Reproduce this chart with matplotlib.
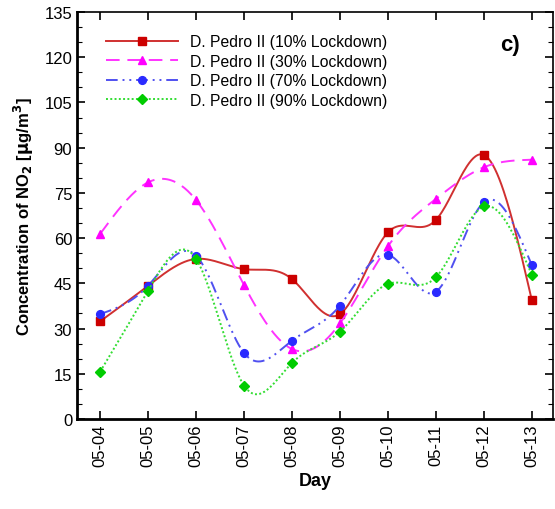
import numpy as np
import matplotlib.pyplot as plt

# NO2 at D. Pedro II under different lockdown scenarios
days = ['05-04', '05-05', '05-06', '05-07', '05-08', '05-09', '05-10', '05-11', '05-12', '05-13']
lock10 = [32.4, 44.2, 53.1, 49.7, 46.4, 34.8, 61.9, 66.0, 87.6, 39.5]
lock30 = [61.4, 78.5, 72.6, 44.4, 23.2, 31.7, 57.3, 73.0, 83.5, 86.0]
lock70 = [34.8, 44.2, 54.2, 21.9, 26.0, 37.6, 54.5, 42.2, 71.9, 51.1]
lock90 = [15.7, 42.6, 53.1, 11.1, 18.6, 29.0, 44.8, 47.0, 70.5, 47.9]


def natural_spline(x, y, n=400):
    # plain natural cubic spline, no scipy needed
    x = np.asarray(x, float)
    y = np.asarray(y, float)
    m = len(x)
    h = np.diff(x)
    A = np.zeros((m, m))
    b = np.zeros(m)
    A[0, 0] = 1
    A[-1, -1] = 1
    for i in range(1, m - 1):
        A[i, i - 1] = h[i - 1]
        A[i, i] = 2 * (h[i - 1] + h[i])
        A[i, i + 1] = h[i]
        b[i] = 6 * ((y[i + 1] - y[i]) / h[i] - (y[i] - y[i - 1]) / h[i - 1])
    M = np.linalg.solve(A, b)
    xs = np.linspace(x[0], x[-1], n)
    k = np.clip(np.searchsorted(x, xs) - 1, 0, m - 2)
    t1 = x[k + 1] - xs
    t0 = xs - x[k]
    ys = (M[k] * t1**3 + M[k + 1] * t0**3) / (6 * h[k]) \
        + (y[k] / h[k] - M[k] * h[k] / 6) * t1 \
        + (y[k + 1] / h[k] - M[k + 1] * h[k] / 6) * t0
    return xs, ys


plt.rcParams['font.family'] = ['Liberation Sans', 'DejaVu Sans']
plt.rcParams['mathtext.default'] = 'bf'

fig = plt.figure(figsize=(5.55, 5.1), dpi=100)
ax = fig.add_axes([0.139, 0.1765, 0.858, 0.798])

x = np.arange(len(days))
series = [
    (lock10, 'D. Pedro II (10% Lockdown)', '#cc0000', '#d03030', 's', '-', 5.2),
    (lock30, 'D. Pedro II (30% Lockdown)', '#ff00ff', '#ff33ff', '^', (0, (7, 4)), 6.0),
    (lock70, 'D. Pedro II (70% Lockdown)', '#2a2aff', '#5050f0', 'o', (0, (6, 2.5, 1, 2.5, 1, 2.5)), 5.6),
    (lock90, 'D. Pedro II (90% Lockdown)', '#00cc00', '#33dd33', 'D', (0, (1, 1.2)), 4.6),
]
for vals, label, mcol, lcol, mk, ls, ms in series:
    xs, ys = natural_spline(x, vals)
    ax.plot(xs, ys, color=lcol, lw=1.4, ls=ls)
    ax.plot(x, vals, ls='none', marker=mk, color=mcol, ms=ms)
    # legend proxy: line with one marker in the middle
    ax.plot([], [], color=lcol, lw=1.4, ls=ls, marker=mk, mfc=mcol, mec=mcol,
            ms=ms, label=label)

ax.set_xlim(-0.48, 9.45)
ax.set_ylim(0, 135)
ax.set_xticks(x)
ax.set_xticklabels(days, rotation=90, fontsize=12)
ax.set_yticks(np.arange(0, 136, 15))
ax.set_yticks(np.arange(0, 136, 5), minor=True)
ax.tick_params(axis='y', labelsize=12)
ax.tick_params(which='major', direction='in', length=6, width=1.2, top=True, right=True)
ax.tick_params(which='minor', direction='in', length=3.5, width=0.8, right=True)
ax.tick_params(axis='x', which='minor', bottom=False, top=False)

for side in ['left', 'bottom']:
    ax.spines[side].set_linewidth(2)
ax.spines['top'].set_linewidth(1.2)
ax.spines['right'].set_linewidth(1.2)

ax.set_xlabel('Day', fontsize=13, fontweight='bold', labelpad=4)
ax.set_ylabel(r'Concentration of NO$_2$ [$\mu$g/m$^3$]', fontsize=12, fontweight='bold', labelpad=6)

ax.text(0.91, 0.92, 'c)', transform=ax.transAxes, fontsize=16, fontweight='bold',
        ha='center', va='center')

ax.legend(loc='upper left', bbox_to_anchor=(0.04, 0.968), frameon=False, fontsize=11.3,
          handlelength=4.6, numpoints=1, labelspacing=0.28, handletextpad=0.75,
          borderaxespad=0.2)

fig.savefig('out.png', dpi=100)
